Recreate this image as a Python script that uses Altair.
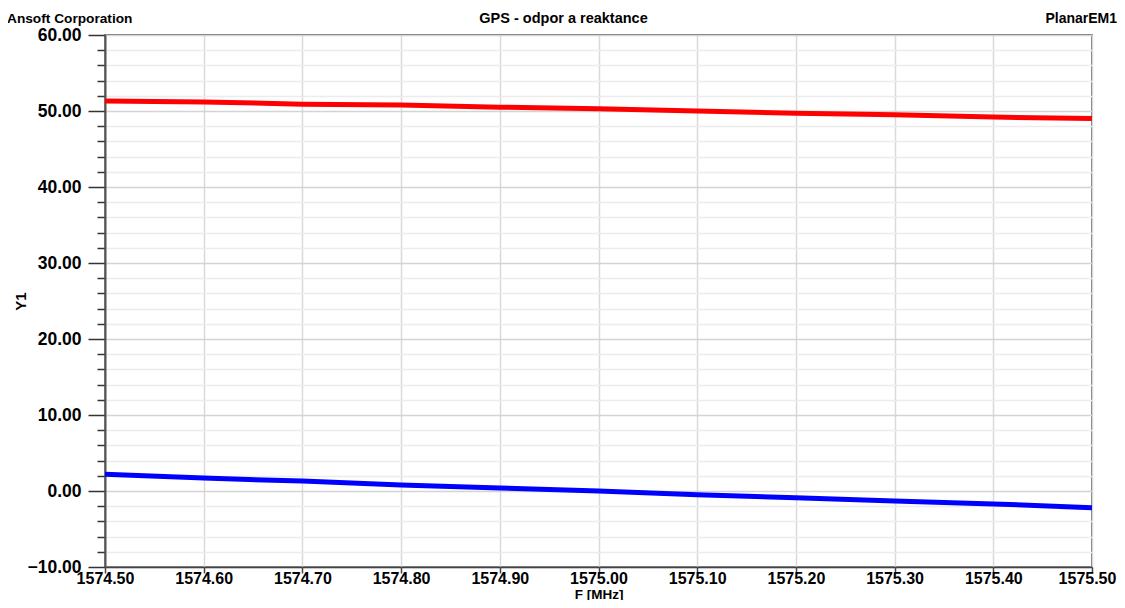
import altair as alt
import pandas as pd

freq = [1574.5, 1574.6, 1574.7, 1574.8, 1574.9, 1575.0, 1575.1, 1575.2, 1575.3, 1575.4, 1575.5]
resistance = [51.3, 51.2, 50.9, 50.8, 50.5, 50.3, 50.0, 49.7, 49.5, 49.2, 49.0]
reactance = [2.2, 1.7, 1.3, 0.8, 0.4, 0.0, -0.5, -0.9, -1.3, -1.7, -2.2]
series_names = ["re(Y1)", "im(Y1)"]
series_colors = ["#ff0000", "#0000ff"]
x_ticks = [1574.5, 1574.6, 1574.7, 1574.8, 1574.9, 1575.0, 1575.1, 1575.2, 1575.3, 1575.4, 1575.5]
y_ticks = list(range(-10, 61, 2))

df = pd.DataFrame({
    "F": freq * 2,
    "Y": resistance + reactance,
    "s": [series_names[0]] * len(freq) + [series_names[1]] * len(freq),
})

FONT = "Liberation Sans"

lines = alt.Chart(df).mark_line(strokeWidth=5).encode(
    x=alt.X("F:Q",
            scale=alt.Scale(domain=[1574.5, 1575.5], nice=False, zero=False),
            axis=alt.Axis(values=x_ticks, format=".2f", title="F [MHz]",
                          labelFont=FONT, labelFontSize=16, labelFontWeight="bold",
                          labelColor="#000", labelPadding=-3, tickSize=6,
                          labelOffset={"condition": {"test": "datum.value >= 1575.5", "value": -5}, "value": 0},
                          tickColor="#444", tickWidth=1.5, domainColor="#444", domainWidth=1.5,
                          gridColor="#d9d9d9", gridWidth=1.5,
                          titleFont=FONT, titleFontSize=13.5, titleFontWeight="bold",
                          titleColor="#000", titleBaseline="alphabetic", titleY=31,
                          labelFlush=False)),
    y=alt.Y("Y:Q",
            scale=alt.Scale(domain=[-10, 60], nice=False, zero=False),
            axis=alt.Axis(values=y_ticks, format=".2f", title="Y1",
                          labelExpr="datum.value % 10 === 0 ? format(datum.value, '.2f') : ''",
                          labelFont=FONT, labelFontSize=17.5, labelFontWeight="bold",
                          labelColor="#000",
                          tickSize={"condition": {"test": "datum.value % 10 === 0", "value": 17}, "value": 8},
                          labelPadding={"condition": {"test": "datum.value % 10 === 0", "value": 7}, "value": 16},
                          tickColor="#333", tickWidth=1.5,
                          domainColor="#555", domainWidth=2,
                          gridColor={"condition": {"test": "datum.value % 10 === 0", "value": "#d4d4d4"}, "value": "#ececec"},
                          gridWidth=1.5,
                          titleFont=FONT, titleFontSize=15, titleFontWeight="bold",
                          titleColor="#000", titleX=-80, titleY=266, titleBaseline="alphabetic")),
    color=alt.Color("s:N", scale=alt.Scale(domain=series_names, range=series_colors), legend=None),
)

def header(text, x, align, size):
    return alt.Chart(alt.Data(values=[{"t": text}])).mark_text(
        font=FONT, fontSize=size, fontWeight="bold", color="#000", align=align, baseline="alphabetic"
    ).encode(text="t:N", x=alt.value(x), y=alt.value(-12))

chart = alt.layer(
    lines,
    header("Ansoft Corporation", -98, "left", 13.7),
    header("GPS - odpor a reaktance", 458.5, "center", 14.5),
    header("PlanarEM1", 1012, "right", 14),
).properties(
    width=987, height=532,
    autosize=alt.AutoSizeParams(type="none"),
    padding={"left": 97, "top": 27, "right": 25, "bottom": 33},
).configure_view(stroke="#444", strokeWidth=1.5)

chart.save("out.html", embed_options={"renderer": "svg", "actions": False})
